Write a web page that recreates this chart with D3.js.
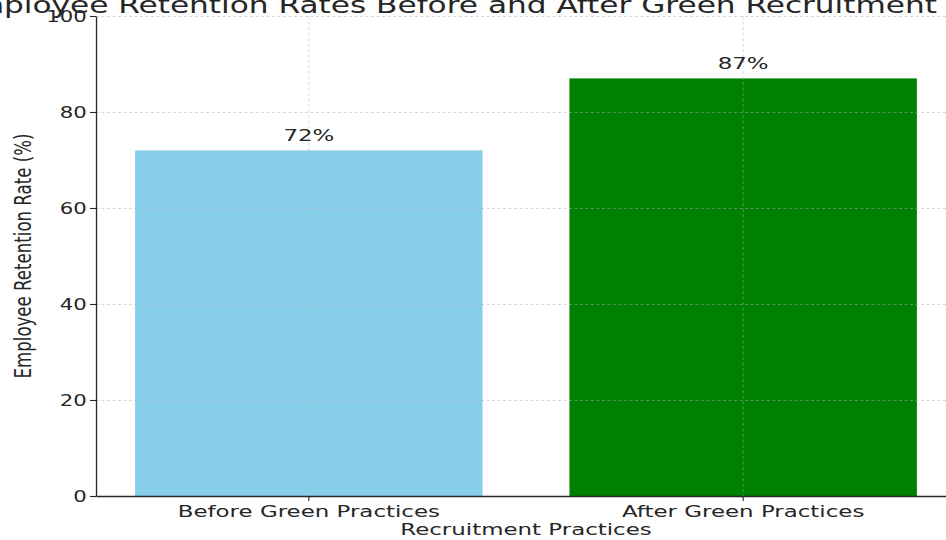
<!DOCTYPE html>
<html>
<head>
<meta charset="utf-8">
<script src="https://cdn.jsdelivr.net/npm/d3@7"></script>
<style>
  html, body { margin: 0; padding: 0; background: #fff; }
  svg { display: block; }
  text { font-family: "DejaVu Sans", sans-serif; fill: #262626; }
</style>
</head>
<body>
<svg id="chart" width="946" height="540"></svg>
<script>
const categories = ["Before Green Practices", "After Green Practices"];
const values = [72, 87];
const barColors = ["#87CEEB", "#008000"];
const yTicks = [0, 20, 40, 60, 80, 100];
const title = "Employee Retention Rates Before and After Green Recruitment";
const xLabel = "Recruitment Practices";
const yLabel = "Employee Retention Rate (%)";

(function () {
const SX = 1.38; // horizontal stretch of the reference image
const svg = d3.select("#chart");
const pLeft = 96, pRight = 956, pTop = 16, pBottom = 496;

const x = d3.scaleBand().domain(categories).range([pLeft, pRight])
  .paddingInner(0.2).paddingOuter(0.09);
const y = d3.scaleLinear().domain([0, 100]).range([pBottom, pTop]);

// bars
svg.append("g").selectAll("rect").data(categories).join("rect")
  .attr("x", d => x(d))
  .attr("width", x.bandwidth())
  .attr("y", (d, i) => y(values[i]))
  .attr("height", (d, i) => y(0) - y(values[i]))
  .attr("fill", (d, i) => barColors[i]);

// grid (drawn above bars)
const grid = svg.append("g").attr("stroke", "#b0b0b0").attr("stroke-opacity", 0.55)
  .attr("stroke-dasharray", "3,2.5").attr("stroke-width", 0.9);
grid.selectAll("line.h").data(yTicks).join("line").attr("class", "h")
  .attr("x1", pLeft).attr("x2", pRight)
  .attr("y1", d => y(d) + 0.5).attr("y2", d => y(d) + 0.5);
grid.selectAll("line.v").data(categories).join("line").attr("class", "v")
  .attr("x1", d => x(d) + x.bandwidth() / 2).attr("x2", d => x(d) + x.bandwidth() / 2)
  .attr("y1", pTop).attr("y2", pBottom);

// axes
const xAxis = svg.append("g").attr("transform", `translate(0,${pBottom})`)
  .call(d3.axisBottom(x).tickSize(5).tickSizeOuter(0).tickPadding(4));
const yAxis = svg.append("g").attr("transform", `translate(${pLeft},0)`)
  .call(d3.axisLeft(y).tickValues(yTicks).tickSize(6).tickSizeOuter(0).tickPadding(4));
[xAxis, yAxis].forEach(a => {
  a.select(".domain").attr("stroke", "#262626").attr("stroke-width", 1.3);
  a.selectAll(".tick line").attr("stroke", "#262626").attr("stroke-width", 1.1);
  a.selectAll("text").attr("font-size", 16.6).attr("fill", "#262626")
    .style("font-family", "DejaVu Sans, sans-serif");
});
xAxis.selectAll(".tick text").attr("transform", `scale(${SX},1)`).attr("dy", "0.72em");
yAxis.selectAll(".tick text").attr("x", -10 / SX).attr("transform", `scale(1.28,1)`);

// value labels
svg.append("g").selectAll("text").data(categories).join("text")
  .attr("transform", (d, i) => `translate(${x(d) + x.bandwidth() / 2},${y(values[i]) - 9}) scale(${SX},1)`)
  .attr("text-anchor", "middle").attr("font-size", 16.6)
  .text((d, i) => values[i] + "%");

// title (partly cut off by the top and left edges, as in the reference)
svg.append("text")
  .attr("transform", `translate(-46,13) scale(${SX},1)`)
  .attr("text-anchor", "start").attr("font-size", 22.6)
  .attr("textLength", 983 / SX).attr("lengthAdjust", "spacingAndGlyphs")
  .text(title);

// x label
svg.append("text")
  .attr("transform", `translate(${(pLeft + pRight) / 2},535) scale(${SX},1)`)
  .attr("text-anchor", "middle").attr("font-size", 16.6).text(xLabel);

// y label
svg.append("text")
  .attr("transform", `translate(31,${(pTop + pBottom) / 2}) scale(${SX},1) rotate(-90)`)
  .attr("text-anchor", "middle").attr("font-size", 16.6).text(yLabel);
})();
</script>
</body>
</html>
